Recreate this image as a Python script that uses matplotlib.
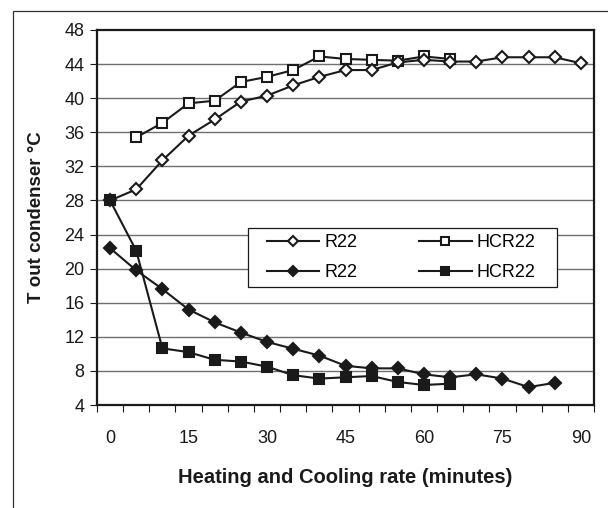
import matplotlib
matplotlib.use("Agg")
import matplotlib.pyplot as plt
from matplotlib.patches import Rectangle
import numpy as np

plt.rcParams['font.family'] = ['Liberation Sans', 'DejaVu Sans']

# time in minutes
time = np.arange(0, 95, 5)

# heating (open markers)
r22_heat = [28.0, 29.3, 32.7, 35.6, 37.5, 39.6, 40.3, 41.5, 42.5, 43.3,
            43.3, 44.2, 44.5, 44.3, 44.3, 44.8, 44.8, 44.8, 44.1]
hcr22_heat_time = time[1:14]
hcr22_heat = [35.4, 37.1, 39.4, 39.7, 41.9, 42.5, 43.3, 44.9, 44.6,
              44.5, 44.4, 44.9, 44.6]

# cooling (filled markers)
r22_cool_time = time[:18]
r22_cool = [22.4, 19.8, 17.6, 15.2, 13.7, 12.5, 11.4, 10.6, 9.8, 8.6,
            8.3, 8.3, 7.6, 7.25, 7.6, 7.1, 6.1, 6.6]
hcr22_cool_time = time[:14]
hcr22_cool = [28.0, 22.1, 10.65, 10.2, 9.3, 9.1, 8.5, 7.5, 7.1, 7.25,
              7.4, 6.7, 6.35, 6.5]

x_labels = [0, 15, 30, 45, 60, 75, 90]
y_ticks = np.arange(4, 49, 4)

ink = '#1a1a1a'

fig = plt.figure(figsize=(6.08, 5.08), dpi=100)
ax = fig.add_axes([97 / 608, 103 / 508, 497 / 608, 375 / 508])

# outer chart border (cut off at right / bottom like the source)
fig.patches.append(Rectangle((13 / 608, -0.1), 1.2, (508 - 11) / 508 + 0.1,
                             transform=fig.transFigure, fill=False,
                             edgecolor='#333333', linewidth=0.9))

line_kw = dict(color=ink, linewidth=1.5, markeredgecolor=ink, markeredgewidth=1.5)

h2, = ax.plot(hcr22_heat_time, hcr22_heat, marker='s', markersize=7.5,
              markerfacecolor='white', label='HCR22', zorder=3, **line_kw)
h1, = ax.plot(time, r22_heat, marker='D', markersize=6.2,
              markerfacecolor='white', label='R22', zorder=4, **line_kw)
h3, = ax.plot(r22_cool_time, r22_cool, marker='D', markersize=6.2,
              markerfacecolor=ink, label='R22', zorder=5, **line_kw)
h4, = ax.plot(hcr22_cool_time, hcr22_cool, marker='s', markersize=7.5,
              markerfacecolor=ink, label='HCR22', zorder=6, **line_kw)

ax.set_xlim(-2.5, 92.5)
ax.set_ylim(4, 48)

ax.set_yticks(y_ticks)
ax.tick_params(axis='y', direction='out', length=5, width=0.8,
               labelsize=13, pad=4, colors=ink)

# category-style x axis: labels at centres, tick marks at boundaries
ax.set_xticks(x_labels)
ax.set_xticklabels([str(v) for v in x_labels])
ax.set_xticks(np.arange(-2.5, 93, 5), minor=True)
ax.tick_params(axis='x', which='major', length=0, labelsize=13, pad=18,
               colors=ink)
ax.tick_params(axis='x', which='minor', direction='out', length=5, width=0.8,
               color=ink)

for yv in y_ticks[1:-1]:
    ax.axhline(yv, color='#707070', linewidth=1.0, zorder=1)

for sp in ax.spines.values():
    sp.set_linewidth(1.6)
    sp.set_color(ink)

ax.set_xlabel('Heating and Cooling rate (minutes)', fontsize=14.5,
              fontweight='bold', labelpad=15, color=ink)
ax.set_ylabel('T out condenser °C', fontsize=13.5, fontweight='bold',
              labelpad=14, color=ink)

# legend box drawn separately so its padding matches the source
ax.add_patch(Rectangle((151 / 497, 118 / 375), 309 / 497, 59 / 375,
                       transform=ax.transAxes, facecolor='white',
                       edgecolor=ink, linewidth=0.9, zorder=9))
leg = ax.legend(handles=[h1, h3, h2, h4], ncol=2, loc='upper left',
                bbox_to_anchor=(170 / 497, 171 / 375), fontsize=13,
                frameon=False, handlelength=2.9, handletextpad=0.3,
                columnspacing=3.4, markerscale=0.8, borderpad=0,
                borderaxespad=0, labelspacing=0.72)
leg.set_zorder(10)

fig.savefig('out.png', dpi=100)
